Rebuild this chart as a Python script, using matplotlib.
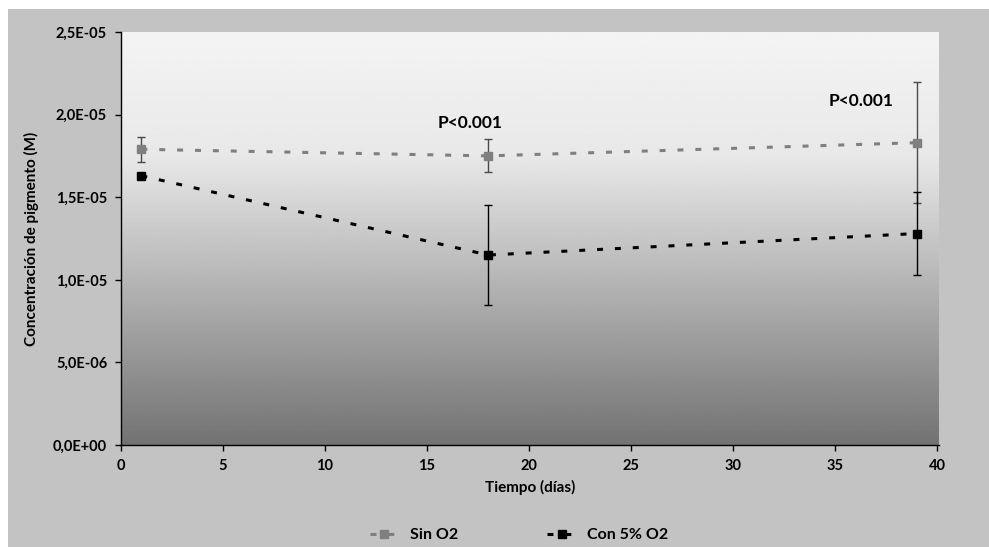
import numpy as np
import matplotlib
matplotlib.use("Agg")
import matplotlib.pyplot as plt
from matplotlib.patches import Rectangle
from matplotlib.ticker import FixedLocator

plt.rcParams['font.family'] = ['Lato', 'DejaVu Sans']
plt.rcParams['font.weight'] = 'bold'

# Measurement days
dias = [1, 18, 39]

# Pigment concentration (M) and standard deviations
sin_o2 = [1.79e-5, 1.75e-5, 1.83e-5]
sin_o2_err = [0.075e-5, 0.10e-5, 0.365e-5]
con_o2 = [1.63e-5, 1.15e-5, 1.28e-5]
con_o2_err = [0.0, 0.30e-5, 0.25e-5]

series_labels = ["Sin O2", "Con 5% O2"]
x_ticks = [0, 5, 10, 15, 20, 25, 30, 35, 40]
y_ticks = [0.0, 5e-6, 1e-5, 1.5e-5, 2e-5, 2.5e-5]
y_tick_labels = ["0,0E+00", "5,0E-06", "1,0E-05", "1,5E-05", "2,0E-05", "2,5E-05"]

# Significance annotations: (x, y, text)
p_labels = [(17.1, 1.95e-5, "P<0.001"), (36.3, 2.08e-5, "P<0.001")]

W, H = 989, 547
fig = plt.figure(figsize=(W / 100, H / 100), dpi=100)
fig.patch.set_facecolor("white")

# Grey chart panel behind everything
fig.patches.append(Rectangle((8 / W, 0), 1 - 8 / W, 1 - 9 / H,
                             transform=fig.transFigure, facecolor="#c3c3c3",
                             edgecolor="none", zorder=-10))

ax = fig.add_axes([121 / W, 1 - 445 / H, (939 - 121) / W, (445 - 32) / H])
ax.set_xlim(0, 40.1)
ax.set_ylim(0, 2.5e-5)

# Vertical gradient in the plotting area (light at top, dark at bottom)
t = np.linspace(0, 1, 256)  # 0 = top, 1 = bottom
g = np.interp(t, [0.0, 0.3, 1.0], [0.955, 0.91, 0.45])
ax.imshow(g[:, None], aspect="auto", cmap="gray", vmin=0, vmax=1,
          extent=[0, 40.1, 0, 2.5e-5], origin="upper", zorder=0)

lw = 2.2
dash = (1.95, 3.9)

ax.errorbar(dias, sin_o2, yerr=sin_o2_err, fmt="none", ecolor="#4a4a4a",
            elinewidth=1.0, capsize=3, capthick=1.0, zorder=2)
ax.errorbar(dias, con_o2, yerr=con_o2_err, fmt="none", ecolor="black",
            elinewidth=1.0, capsize=3, capthick=1.0, zorder=2)

l1, = ax.plot(dias, sin_o2, color="#7f7f7f", lw=lw, dashes=dash,
              marker="s", markersize=5.5, markeredgecolor="#7f7f7f",
              label=series_labels[0], zorder=3)
l2, = ax.plot(dias, con_o2, color="black", lw=lw, dashes=dash,
              marker="s", markersize=5.5, markeredgecolor="black",
              label=series_labels[1], zorder=3)

for x, y, s in p_labels:
    ax.text(x, y, s, ha="center", va="center", fontsize=12.5,
            fontweight="bold", color="black")

for side in ("top", "right"):
    ax.spines[side].set_visible(False)
for side in ("left", "bottom"):
    ax.spines[side].set_linewidth(1.0)
    ax.spines[side].set_color("black")

ax.xaxis.set_major_locator(FixedLocator(x_ticks))
ax.yaxis.set_major_locator(FixedLocator(y_ticks))
ax.set_yticklabels(y_tick_labels)
ax.set_xticklabels([str(v) for v in x_ticks])
ax.tick_params(axis="both", direction="out", length=4, width=1,
               labelsize=10.5, colors="black", pad=6)
for lab in ax.get_xticklabels() + ax.get_yticklabels():
    lab.set_fontweight("bold")

ax.set_xlabel("Tiempo (días)", fontsize=11, fontweight="bold", labelpad=5)
ax.set_ylabel("Concentración de pigmento (M)", fontsize=11,
              fontweight="bold", labelpad=10)

leg = fig.legend(handles=[l1, l2], loc="center",
                 bbox_to_anchor=(519 / W, 1 - 535 / H), ncol=2,
                 frameon=False, fontsize=11.5, handlelength=1.8,
                 columnspacing=5.6, handletextpad=0.7, markerscale=1.0)
for txt in leg.get_texts():
    txt.set_fontweight("bold")

fig.savefig("out.png", dpi=100, facecolor=fig.get_facecolor())
